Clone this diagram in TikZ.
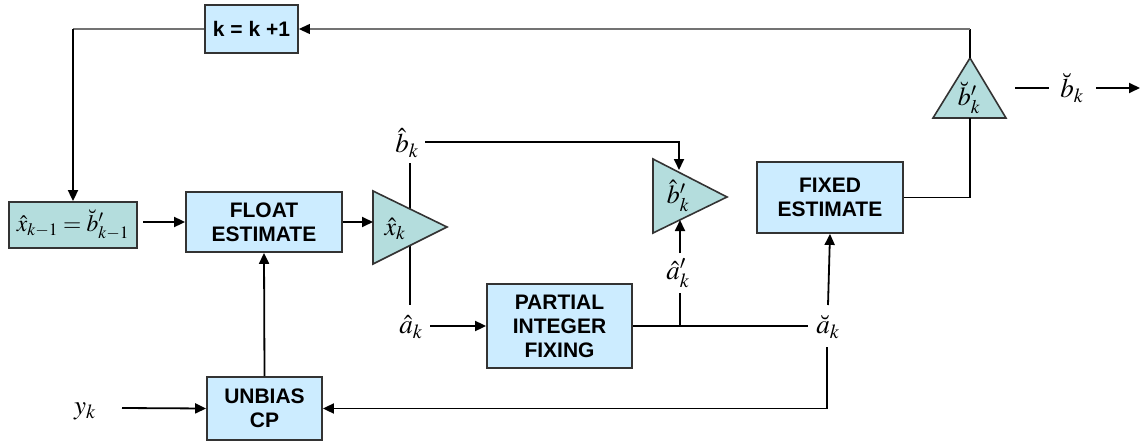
\documentclass[tikz,border=0pt]{standalone}
\usepackage{mathptmx}
\usepackage{fontspec}
\setsansfont{Liberation Sans}
\usetikzlibrary{arrows.meta}
\definecolor{boxblue}{RGB}{204,236,255}
\definecolor{teal}{RGB}{180,221,221}
\tikzset{
  blk/.style={draw=black!80, fill=boxblue, line width=1.8pt, align=center, inner sep=0pt,
    font=\sffamily\bfseries\fontsize{21}{24}\selectfont},
  tri/.style={draw=black!80, fill=teal, line width=1.6pt, line join=miter},
  con/.style={line width=1.8pt, draw=black},
  arr/.style={con, -{Triangle[length=11pt,width=10pt]}},
  thin/.style={line width=1.1pt, draw=black!55},
  lab/.style={inner sep=0pt, font=\fontsize{27}{29}\selectfont},
  tlab/.style={inner sep=0pt, font=\fontsize{26}{28}\selectfont}
}
\begin{document}
\begin{tikzpicture}[x=1pt,y=-1pt]
\useasboundingbox (0,0) rectangle (1145,441);
% boxes
\node[blk, minimum width=93pt, minimum height=48pt] (kk) at (251.5,29) {k = k +1};
\node[blk, fill=teal, minimum width=128pt, minimum height=46pt, font=\fontsize{23.5}{26}\selectfont] (xprev) at (73,225) {$\hat{x}_{k-1}=\breve{b}'_{k-1}$};
\node[blk, minimum width=156pt, minimum height=60pt] (float) at (264,222) {FLOAT\\ESTIMATE};
\node[blk, minimum width=146pt, minimum height=71pt] (fixed) at (830,197.5) {FIXED\\ESTIMATE};
\node[blk, minimum width=145pt, minimum height=84pt] (pif) at (559.5,326) {PARTIAL\\INTEGER\\FIXING};
\node[blk, minimum width=115pt, minimum height=63pt] (unb) at (264.5,408.5) {UNBIAS\\CP};
% labels
\node[lab] (bhat) at (407,143) {$\hat{b}_k$};
\node[lab] (ahat) at (411,327) {$\hat{a}_k$};
\node[lab] (ahatp) at (678,273) {$\hat{a}'_k$};
\node[lab] (abrv) at (828,327) {$\breve{a}_k$};
\node[lab] (bbrv) at (1072,88) {$\breve{b}_k$};
\node[lab] (yk) at (85,411) {$y_k$};
% coordinates
\coordinate (xv1) at (410,163);
\coordinate (xv2) at (410,305);
\coordinate (t1in) at (373,222);
\coordinate (t2top) at (679,170);
\coordinate (t2bot) at (680,220);
\coordinate (t2out) at (727,197);
\coordinate (t3top) at (970,58);
\coordinate (t3bot) at (970,118);
\coordinate (c1) at (970,29);
\coordinate (c2) at (73,29);
\coordinate (j1) at (680,326);
\coordinate (aend) at (808,326);
% line through first triangle (behind it)
\draw[con] (xv1) -- (xv2);
% triangles
\draw[tri] (373,191) -- (373,264) -- (447,227) -- cycle;
\node[tlab] (tx) at (395,229) {$\hat{x}_k$};
\draw[tri] (653,159) -- (653,233) -- (727,197) -- cycle;
\node[tlab] (tb) at (678,196) {$\hat{b}'_k$};
\draw[tri] (970,58) -- (933,118) -- (1006,118) -- cycle;
\node[tlab] (tbb) at (969,98) {$\breve{b}'_k$};
% connectors
\draw[con] (t3top) -- (c1);
\draw[thin] (c1) -- (305,29);
\draw[arr, line width=1.1pt] (305,29) -- (kk.east);
\draw[thin] (kk.west) -- (c2);
\draw[arr] (c2) -- (xprev.north);
\draw[arr] (143,222) -- (float.west);
\draw[arr] (float.east) -- (t1in);
\draw[arr] (425,142) -| (t2top);
\draw[arr] (680,253) -- (t2bot);
\draw[arr] (430,326) -- (pif.west);
\draw[con] (pif.east) -- (aend);
\draw[con] (j1) -- (680,293);
\draw[arr] (828,305) -- (fixed.south);
\draw[arr] (827,347) |- (unb.east);
\draw[con] (fixed.east) -| (t3bot);
\draw[con] (1015,88) -- (1049,88);
\draw[arr] (1096,88) -- (1140,88);
\draw[arr] (122,408) -- (unb.west);
\draw[arr] (unb.north) -- (float.south);
\end{tikzpicture}
\end{document}
